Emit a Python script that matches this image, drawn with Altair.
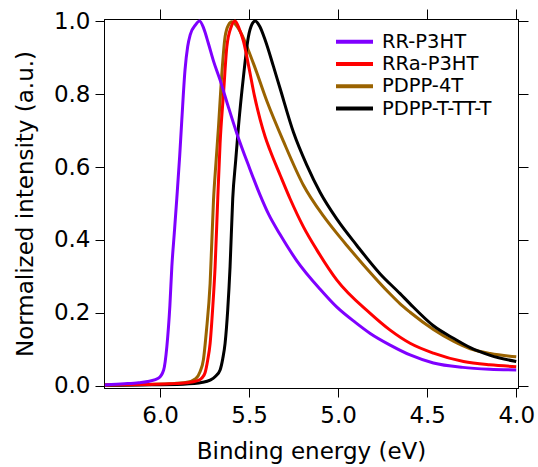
import altair as alt
import pandas as pd

series_names = ["RR-P3HT", "RRa-P3HT", "PDPP-4T", "PDPP-T-TT-T"]
series_colors = ["#7F00FF", "#FF0000", "#9A6300", "#000000"]

rr_e = [6.31, 6.20, 6.12, 6.06, 6.01, 5.98, 5.962, 5.945, 5.934, 5.92, 5.906, 5.89, 5.878, 5.86, 5.845,
        5.831, 5.80, 5.779, 5.755, 5.729, 5.70, 5.663, 5.62, 5.569, 5.50, 5.44, 5.39, 5.326, 5.232,
        5.101, 5.007, 4.90, 4.82, 4.708, 4.596, 4.465, 4.30, 4.15, 4.0]
rr_i = [0.003, 0.006, 0.009, 0.013, 0.021, 0.044, 0.108, 0.22, 0.327, 0.42, 0.515, 0.63, 0.729, 0.866, 0.93,
        0.962, 0.99, 1.0, 0.98, 0.939, 0.89, 0.838, 0.77, 0.692, 0.60, 0.525, 0.47, 0.415, 0.343,
        0.265, 0.216, 0.173, 0.144, 0.112, 0.085, 0.063, 0.051, 0.046, 0.044]

rra_e = [6.31, 6.10, 5.944, 5.85, 5.794, 5.765, 5.747, 5.733, 5.719, 5.705, 5.691, 5.676, 5.663, 5.644,
         5.625, 5.60, 5.579, 5.555, 5.532, 5.50, 5.47, 5.438, 5.41, 5.382, 5.326, 5.27, 5.195, 5.12,
         5.007, 4.82, 4.708, 4.596, 4.465, 4.296, 4.15, 4.0]
rra_i = [0.003, 0.004, 0.006, 0.009, 0.014, 0.022, 0.037, 0.07, 0.117, 0.21, 0.327, 0.515, 0.665, 0.80,
         0.93, 0.985, 1.0, 0.978, 0.945, 0.87, 0.795, 0.73, 0.683, 0.645, 0.578, 0.513, 0.436, 0.373,
         0.29, 0.199, 0.153, 0.117, 0.09, 0.067, 0.058, 0.053]

p4t_e = [6.31, 6.10, 5.95, 5.85, 5.80, 5.775, 5.757, 5.74, 5.719, 5.70, 5.685, 5.672, 5.657, 5.635,
         5.615, 5.597, 5.575, 5.551, 5.476, 5.40, 5.307, 5.195, 5.083, 5.007, 4.951, 4.86,
         4.708, 4.652, 4.596, 4.465, 4.35, 4.258, 4.146, 4.0]
p4t_i = [0.003, 0.004, 0.006, 0.01, 0.02, 0.04, 0.071, 0.15, 0.281, 0.51, 0.62, 0.71, 0.829, 0.957,
         0.99, 0.998, 0.99, 0.972, 0.884, 0.78, 0.67, 0.55, 0.466, 0.418, 0.385, 0.333,
         0.252, 0.225, 0.202, 0.155, 0.122, 0.102, 0.089, 0.08]

ttt_e = [6.31, 6.10, 5.87, 5.76, 5.719, 5.69, 5.663, 5.648, 5.635, 5.62, 5.607, 5.592, 5.575, 5.56,
         5.532, 5.504, 5.485, 5.466, 5.44, 5.41, 5.363, 5.326, 5.251, 5.176, 5.101, 5.007,
         4.895, 4.764, 4.652, 4.596, 4.465, 4.35, 4.258, 4.146, 4.0]
ttt_i = [0.002, 0.003, 0.005, 0.01, 0.016, 0.026, 0.044, 0.075, 0.117, 0.21, 0.327, 0.514, 0.62, 0.71,
         0.847, 0.957, 0.99, 1.0, 0.985, 0.948, 0.875, 0.815, 0.695, 0.605, 0.53, 0.457,
         0.385, 0.307, 0.253, 0.225, 0.165, 0.13, 0.105, 0.084, 0.067]

x_ticks = [6.0, 5.5, 5.0, 4.5, 4.0]
y_ticks = [0.0, 0.2, 0.4, 0.6, 0.8, 1.0]

frames = []
for name, es, vs, order in [("PDPP-4T", p4t_e, p4t_i, 0), ("PDPP-T-TT-T", ttt_e, ttt_i, 1),
                            ("RRa-P3HT", rra_e, rra_i, 2), ("RR-P3HT", rr_e, rr_i, 3)]:
    frames.append(pd.DataFrame({"E": es, "I": vs, "series": name, "z": order}))
df = pd.concat(frames, ignore_index=True)

FONT = "DejaVu Sans"
xscale = alt.Scale(domain=[3.99, 6.315], reverse=True, nice=False, zero=False)
yscale = alt.Scale(domain=[-0.0055, 1.0055], nice=False, zero=False)

lines = alt.Chart(df).mark_line(strokeWidth=3, interpolate="monotone").encode(
    x=alt.X("E:Q", scale=xscale,
            axis=alt.Axis(title="Binding energy (eV)", values=x_ticks, format=".1f", orient="bottom",
                          tickSize=9, labelPadding=7, titleY=70, titleBaseline="alphabetic")),
    y=alt.Y("I:Q", scale=yscale,
            axis=alt.Axis(title="Normalized intensity (a.u.)", values=y_ticks, format=".1f", orient="left",
                          tickSize=9, labelPadding=5, titleX=-72, titleY=184.5, titleAngle=-90,
                          titleBaseline="alphabetic", titleAlign="center")),
    color=alt.Color("series:N", scale=alt.Scale(domain=series_names, range=series_colors),
                    legend=alt.Legend(title=None, orient="none", legendX=230, legendY=11.7,
                                      symbolType="stroke", symbolSize=1369, symbolStrokeWidth=4,
                                      clipHeight=22, rowPadding=0.3, labelOffset=7, padding=0,
                                      labelFontSize=19.5, labelFont=FONT, labelColor="black",
                                      labelBaseline="middle")),
    detail="series:N",
    order=alt.Order("z:Q"),
)

mirror = alt.Chart(df).mark_point(opacity=0).encode(
    x=alt.X("E:Q", scale=xscale,
            axis=alt.Axis(title=None, values=x_ticks, labels=False, orient="top", tickSize=10)),
    y=alt.Y("I:Q", scale=yscale,
            axis=alt.Axis(title=None, values=y_ticks, labels=False, orient="right", tickSize=10)),
)

chart = alt.layer(mirror, lines).resolve_axis(x="independent", y="independent").properties(
    width=414, height=369,
    autosize=alt.AutoSizeParams(type="none"),
    padding={"left": 104, "top": 19, "right": 20, "bottom": 79},
    background="white",
).configure_view(stroke="black", strokeWidth=1).configure_axis(
    domainColor="black", tickColor="black", labelColor="black", titleColor="black",
    labelFont=FONT, titleFont=FONT, labelFontSize=23, titleFontSize=23,
    titleFontWeight="normal", grid=False, domainWidth=1, tickWidth=1,
)

chart.save("out.html", embed_options={"renderer": "svg", "actions": False})
